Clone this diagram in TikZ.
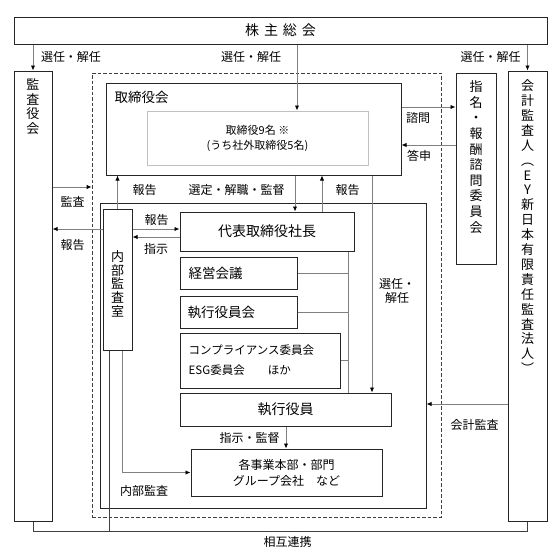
\documentclass[tikz,border=0pt]{standalone}
\usepackage{fontspec}
\setmainfont{Noto Sans CJK JP}
\usetikzlibrary{arrows.meta,positioning}
\definecolor{boxcol}{HTML}{262626}
\definecolor{linecol}{HTML}{808080}
\definecolor{dashcol}{HTML}{404040}
\definecolor{inboxcol}{HTML}{C0C0C0}
\begin{document}
\begin{tikzpicture}
[x=1pt, y=-1pt,
  boxdecorate/.style={shape=rectangle,draw=boxcol,line width=1pt,inner sep=0pt,
    font=\fontsize{14}{16}\selectfont,align=center},
  innerdecorate/.style={shape=rectangle,draw=inboxcol,line width=1pt,inner sep=0pt,
    font=\fontsize{11}{15}\selectfont,align=center},
  framedecorate/.style={shape=rectangle,draw=dashcol,line width=0.8pt,
    dash pattern=on 3.5pt off 2pt,inner sep=0pt},
  textdecorate/.style={inner sep=0pt,font=\fontsize{13.5}{16}\selectfont,align=left},
  verticaldecorate/.style={inner sep=0pt,align=center},
  labeldecorate/.style={inner sep=0pt,font=\fontsize{12}{14}\selectfont,align=center},
  linedecorate/.style={draw=linecol,line width=0.9pt,
    -{Latex[length=5pt,width=4.5pt,color=black]}},
  plaindecorate/.style={draw=linecol,line width=0.9pt},
  mutualdecorate/.style={draw=dashcol,line width=0.9pt}]
\useasboundingbox (0,0) rectangle (560,554);
%% boxes
\node (frame) at (266.5,295) [framedecorate,minimum width=349pt,minimum height=444pt] {};
\foreach \nodename/\x/\y/\w/\h/\txt in {
  sh/280.5/30.5/533/27/{株\hspace{5pt}主\hspace{5pt}総\hspace{5pt}会},
  kansa/33/296/38/450/{}, shimei/476/168.5/40/191/{}, kaikei/527.5/296/39/450/{},
  board/253.5/129/295/92/{}, exec/263/355.5/326/305/{}, naibu/117.5/279.5/29/141/{},
  ceo/267/231.5/174/39/{代表取締役社長}, keiei/238.5/273/117/32/{},
  yakuinkai/238.5/312/117/32/{}, comp/260/360.5/160/55/{},
  officer/285.5/409.5/211/33/{執行役員}}
{
  \node (\nodename) at (\x,\y) [boxdecorate,minimum width=\w pt,minimum height=\h pt] {\txt};
}
\node (biz) at (286.5,472.5) [boxdecorate,font=\fontsize{12}{16}\selectfont,
  minimum width=191pt,minimum height=47pt] {各事業本部・部門\\グループ会社　など};
\node (boardin) at (257.5,138) [innerdecorate,minimum width=221pt,minimum height=54pt]
  {取締役9名 ※\\(うち社外取締役5名)};
%% texts inside boxes
\node (boardname) [textdecorate,below right=8pt and 9pt of board.north west] {取締役会};
\node (keieiname) [textdecorate,right=9pt of keiei.west] {経営会議};
\node (yakuinkainame) [textdecorate,right=8pt of yakuinkai.west] {執行役員会};
\node (compname) [textdecorate,font=\fontsize{11.5}{20}\selectfont,right=9pt of comp.west]
  {コンプライアンス委員会\\ESG委員会\hspace{2em}ほか};
\node (kansaname) [verticaldecorate,font=\fontsize{13}{14.5}\selectfont,below=8pt of kansa.north]
  {監\\査\\役\\会};
\node (shimeiname) [verticaldecorate,font=\fontsize{13}{15.6}\selectfont,below=8pt of shimei.north]
  {指\\名\\・\\報\\酬\\諮\\問\\委\\員\\会};
\node (kaikeiname) [verticaldecorate,font=\fontsize{13}{14.9}\selectfont,below=9pt of kaikei.north]
  {会\\計\\監\\査\\人\\︵\\E\\Y\\新\\日\\本\\有\\限\\責\\任\\監\\査\\法\\人\\︶};
\node (naibuname) [verticaldecorate,font=\fontsize{13}{13.6}\selectfont,below=42pt of naibu.north]
  {内\\部\\監\\査\\室};
%% labels
\foreach \lname/\x/\y/\txt in {selA/71/57/選任・解任, selB/251/57/選任・解任,
  selC/490.5/57/選任・解任, ask/418/118/諮問, ans/419/156/答申, audit/72.5/202/監査,
  repA/72.5/245/報告, repB/144.5/190/報告, repC/156.5/220/報告, inst/156/249/指示,
  seltop/236.5/190/選定・解職・監督, repD/347.5/190/報告, appt/397/291/{選任・\\解任},
  instsup/249.5/438/指示・監督, ia/144/491/内部監査, acc/474.5/425/会計監査,
  mu/287.5/542/相互連携}
{
  \node (\lname) at (\x,\y) [labeldecorate] {\txt};
}
%% rows and columns of the connectors
\foreach \cname/\x/\y in {colmid/297/0, colsel/295/0, colrep/322/0, colappt/372/0,
  colbus/348/0, colbiz/286/0, colia/122/0, colmu/109/0, rowask/0/107, rowans/0/145,
  rowaudit/0/187, rowrep/0/229, rowinst/0/237, rowacc/0/404, rowmu/0/531}
{
  \coordinate (\cname) at (\x,\y);
}
%% connectors
\path
\foreach \startnode/\endnode in {sh.south -| kansa.north/kansa.north,
  sh.south -| colmid/boardin.north -| colmid, sh.south -| kaikei.north/kaikei.north,
  board.east |- rowask/shimei.west |- rowask, shimei.west |- rowans/board.east |- rowans,
  kansa.east |- rowaudit/frame.west |- rowaudit, naibu.west |- rowrep/kansa.east |- rowrep,
  naibu.north/board.south -| naibu.north, naibu.east |- rowrep/ceo.west |- rowrep,
  ceo.west |- rowinst/naibu.east |- rowinst, board.south -| colsel/ceo.north -| colsel,
  ceo.north -| colrep/board.south -| colrep, board.south -| colappt/officer.north -| colappt,
  officer.south -| colbiz/biz.north -| colbiz, kaikei.west |- rowacc/exec.east |- rowacc}
{
  (\startnode) edge[linedecorate] (\endnode)
};
\draw[linedecorate] (naibu.south -| colia) |- (biz.west);
\draw[plaindecorate] (ceo.south -| colbus) -- (officer.north -| colbus);
\foreach \nodename in {keiei, yakuinkai, comp}
{
  \draw[plaindecorate] (\nodename.east) -- (\nodename.east -| colbus);
}
\draw[mutualdecorate] (kansa.south) |- (kaikei.south |- rowmu) -- (kaikei.south);
\draw[mutualdecorate] (naibu.south -| colmu) -- (colmu |- rowmu);
\end{tikzpicture}
\end{document}
